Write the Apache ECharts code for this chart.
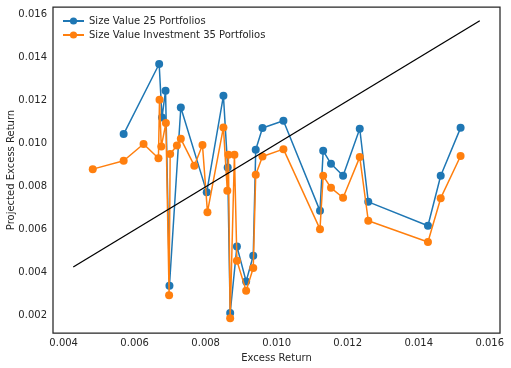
<!DOCTYPE html>
<html>
<head>
<meta charset="utf-8">
<script src="https://cdn.jsdelivr.net/npm/echarts@6/dist/echarts.min.js"></script>
<style>html,body{margin:0;padding:0;background:#fff;}#c{width:511px;height:368px;}</style>
</head>
<body>
<div id="c"></div>
<script>
const seriesNames = ['Size Value 25 Portfolios', 'Size Value Investment 35 Portfolios'];
const xTicks = [0.004, 0.006, 0.008, 0.010, 0.012, 0.014, 0.016];
const yTicks = [0.002, 0.004, 0.006, 0.008, 0.010, 0.012, 0.014, 0.016];

const blueX = [0.00569, 0.00669, 0.00677, 0.00687, 0.00698, 0.00730, 0.00803, 0.00850, 0.00862, 0.00869, 0.00888, 0.00914, 0.00934, 0.00941, 0.00960, 0.01019, 0.01122, 0.01131, 0.01153, 0.01187, 0.01234, 0.01258, 0.01426, 0.01462, 0.01518];
const blueY = [0.01045, 0.01371, 0.01122, 0.01247, 0.00340, 0.01169, 0.00775, 0.01223, 0.00890, 0.00213, 0.00522, 0.00360, 0.00479, 0.00972, 0.01073, 0.01107, 0.00688, 0.00967, 0.00907, 0.00851, 0.01070, 0.00730, 0.00619, 0.00851, 0.01074];

const orangeX = [0.00482, 0.00569, 0.00625, 0.00667, 0.00670, 0.00675, 0.00688, 0.00697, 0.00700, 0.00719, 0.00730, 0.00768, 0.00791, 0.00805, 0.00850, 0.00861, 0.00864, 0.00869, 0.00881, 0.00888, 0.00914, 0.00934, 0.00941, 0.00960, 0.01019, 0.01122, 0.01131, 0.01153, 0.01187, 0.01234, 0.01258, 0.01426, 0.01462, 0.01518];
const orangeY = [0.00882, 0.00921, 0.00999, 0.00933, 0.01205, 0.00987, 0.01096, 0.00296, 0.00952, 0.00992, 0.01023, 0.00898, 0.00994, 0.00682, 0.01076, 0.00781, 0.00949, 0.00189, 0.00949, 0.00456, 0.00316, 0.00422, 0.00856, 0.00941, 0.00975, 0.00603, 0.00851, 0.00795, 0.00749, 0.00938, 0.00642, 0.00543, 0.00747, 0.00943];

const identityLine = [0.00427, 0.01572];

const zip = (xs, ys) => xs.map((x, i) => [x, ys[i]]);
const textColor = '#262626';
const font = 'DejaVu Sans';

const chart = echarts.init(document.getElementById('c'), null, {renderer: 'canvas'});
chart.setOption({
  animation: false,
  backgroundColor: '#fff',
  textStyle: {fontFamily: font},
  grid: {left: 53, right: 11, top: 7, bottom: 35, show: true, borderColor: '#262626', borderWidth: 1.25, backgroundColor: '#fff', containLabel: false, outerBoundsMode: 'none'},
  legend: {
    left: 57, top: 11, orient: 'vertical', itemWidth: 21, itemHeight: 9, itemGap: 4,
    data: seriesNames,
    textStyle: {fontFamily: font, fontSize: 10, color: textColor, padding: [0, 0, 0, 0]}
  },
  xAxis: {
    type: 'value', min: 0.0037, max: 0.01629,
    name: 'Excess Return', nameLocation: 'middle', nameGap: 20, nameMoveOverlap: false,
    nameTextStyle: {fontFamily: font, fontSize: 10, color: textColor},
    axisLine: {show: false}, axisTick: {show: false}, splitLine: {show: false},
    axisLabel: {customValues: xTicks, formatter: v => v.toFixed(3), fontFamily: font, fontSize: 10, color: textColor, margin: 5}
  },
  yAxis: {
    type: 'value', min: 0.0012, max: 0.01636,
    name: 'Projected Excess Return', nameLocation: 'middle', nameGap: 37, nameMoveOverlap: false,
    nameTextStyle: {fontFamily: font, fontSize: 10, color: textColor},
    axisLine: {show: false}, axisTick: {show: false}, splitLine: {show: false},
    axisLabel: {customValues: yTicks, formatter: v => v.toFixed(3), fontFamily: font, fontSize: 10, color: textColor, margin: 6}
  },
  series: [
    {
      name: seriesNames[0], type: 'line', data: zip(blueX, blueY),
      symbol: 'circle', symbolSize: 8, showSymbol: true,
      itemStyle: {color: '#1f77b4'}, lineStyle: {color: '#1f77b4', width: 1.5}, z: 3
    },
    {
      name: seriesNames[1], type: 'line', data: zip(orangeX, orangeY),
      symbol: 'circle', symbolSize: 8, showSymbol: true,
      itemStyle: {color: '#ff7f0e'}, lineStyle: {color: '#ff7f0e', width: 1.5}, z: 4
    },
    {
      name: 'identity', type: 'line', data: zip(identityLine, identityLine),
      symbol: 'none', lineStyle: {color: '#000', width: 1.3}, z: 5, silent: true
    }
  ]
});
</script>
</body>
</html>
